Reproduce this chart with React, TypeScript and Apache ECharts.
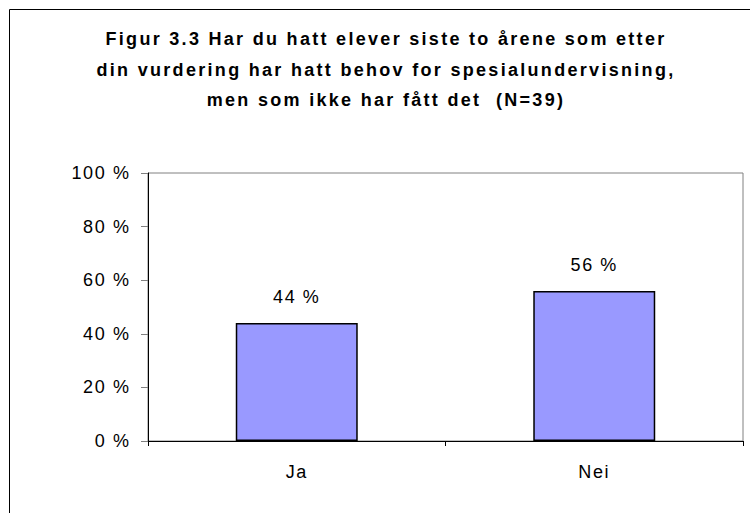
import React, { useEffect, useRef } from "react";
import * as echarts from "echarts";

const titleLines = [
  "Figur 3.3 Har du hatt elever siste to årene som etter",
  "din vurdering har hatt behov for spesialundervisning,",
  "men som ikke har fått det  (N=39)",
];
const categories = ["Ja", "Nei"];
const values = [44, 56];
const yMin = 0;
const yMax = 100;
const yStep = 20;

export default function App() {
  const ref = useRef<HTMLDivElement>(null);
  useEffect(() => {
    if (!ref.current) return;
    const el = ref.current;
    const chart = echarts.init(el, null, { renderer: "svg" });
    const font = "Liberation Sans, Arial, sans-serif";
    chart.setOption({
      animation: false,
      backgroundColor: "#ffffff",
      graphic: [
        {
          type: "rect",
          shape: { x: 9.5, y: 9.5, width: 760, height: 520 },
          style: { fill: "none", stroke: "#000000", lineWidth: 1 },
          silent: true,
        },
        {
          type: "text",
          x: 386,
          y: 24,
          style: {
            text: titleLines.join("\n"),
            font: `bold 18px ${font}`,
            fill: "#000000",
            textAlign: "center",
            lineHeight: 30.5,
          },
        },
      ],
      grid: {
        left: 148,
        top: 173,
        right: 7,
        bottom: 72,
        show: true,
        borderColor: "#808080",
        borderWidth: 1,
        backgroundColor: "transparent",
      },
      xAxis: {
        type: "category",
        data: categories,
        axisLine: { lineStyle: { color: "#000000", width: 1 } },
        axisTick: { show: true, length: 5, lineStyle: { color: "#000000" } },
        axisLabel: { color: "#000000", fontFamily: font, fontSize: 18, margin: 22 },
      },
      yAxis: {
        type: "value",
        min: yMin,
        max: yMax,
        interval: yStep,
        axisLine: { show: true, lineStyle: { color: "#000000", width: 1 } },
        axisTick: { show: true, length: 7, lineStyle: { color: "#808080" } },
        splitLine: { show: false },
        axisLabel: {
          color: "#000000",
          fontFamily: font,
          fontSize: 18,
          margin: 17.5,
          formatter: "{value} %",
        },
      },
      series: [
        {
          type: "bar",
          data: values,
          barWidth: "41%",
          itemStyle: { color: "#9999FF", borderColor: "#000000", borderWidth: 1.5 },
          label: {
            show: true,
            position: "top",
            distance: 17,
            color: "#000000",
            fontFamily: font,
            fontSize: 18,
            formatter: "{c} %",
          },
        },
      ],
    });
    const spaceTexts = () => {
      el.querySelectorAll("text").forEach((t) => {
        const s = (t.textContent || "").trim();
        const isTitle = titleLines.some((l) => l.trim() === s);
        (t as SVGTextElement).style.letterSpacing = isTitle ? "2.3px" : "1.6px";
      });
    };
    spaceTexts();
    chart.on("finished", spaceTexts);
    const timer = setTimeout(spaceTexts, 0);
    return () => {
      clearTimeout(timer);
      chart.dispose();
    };
  }, []);
  return (
    <div
      ref={ref}
      style={{ position: "fixed", left: 0, top: 0, width: 750, height: 513 }}
    />
  );
}
